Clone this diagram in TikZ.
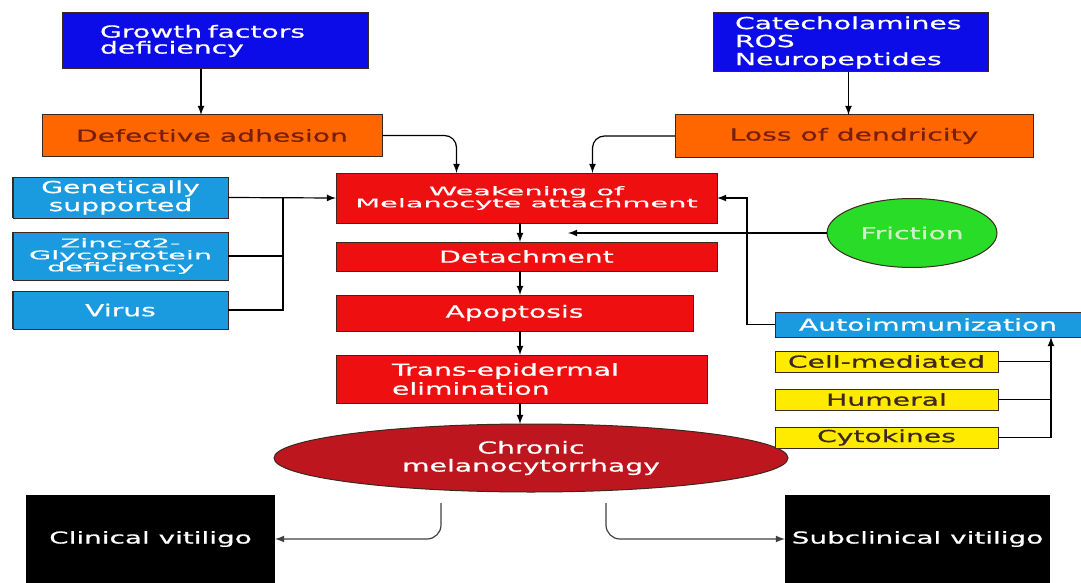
\documentclass[tikz,border=0pt]{standalone}
\usepackage{fontspec}
\newfontfamily\vfont[FakeStretch=1.7,FakeBold=0.7]{DejaVu Sans}
\newfontfamily\sfont[FakeStretch=2.4,FakeBold=0.7]{DejaVu Sans}
\usetikzlibrary{shapes.geometric,arrows}

\definecolor{dblue}{RGB}{12,12,232}
\definecolor{lblue}{RGB}{26,155,224}
\definecolor{orng}{RGB}{255,102,0}
\definecolor{rbox}{RGB}{238,16,16}
\definecolor{dred}{RGB}{190,22,30}
\definecolor{grn}{RGB}{40,220,40}
\definecolor{ylw}{RGB}{255,235,0}
\definecolor{edge}{RGB}{60,40,30}
\definecolor{otext}{RGB}{120,30,10}

\tikzset{
  box/.style={draw=edge, line width=0.5pt, inner sep=0pt, outer sep=0pt,
    align=center, font=\vfont\fontsize{8.3}{9}\selectfont},
  squish/.style={font={\lineskiplimit=-20pt\relax\sfont\fontsize{6}{6}\selectfont}},
  arr/.style={-latex, line width=0.6pt},
}

\begin{document}
\begin{tikzpicture}[x=0.5pt,y=-0.5pt]
\useasboundingbox (0,0) rectangle (1081,583);

% top sources
\node[box, fill=dblue, text=white, minimum height=28pt, inner xsep=19pt, text width=115pt, align=left,
  font=\vfont\fontsize{8.3}{8}\selectfont] (growth) at (215,41) {Growth factors\\deficiency};
\node[box, fill=dblue, text=white, minimum height=29.5pt, inner xsep=11pt, text width=115.5pt, align=left] (catechol) at (850.5,42.5) {Catecholamines\\ROS\\Neuropeptides};
\node[box, fill=orng, text=otext, minimum width=170pt, minimum height=20.5pt] (defect) at (212,135.5) {Defective adhesion};
\node[box, fill=orng, text=otext, minimum width=179pt, minimum height=21pt] (loss) at (854,136) {Loss of dendricity};

% central chain
\node[box, squish, fill=rbox, text=white, minimum width=190.5pt, minimum height=25pt] (weak) at (526.5,198) {Weakening of\\Melanocyte attachment};
\node[box, fill=rbox, text=white, minimum width=190.5pt, minimum height=14.5pt] (detach) at (526.5,256.5) {Detachment};
\node[box, fill=rbox, text=white, minimum width=178.5pt, minimum height=18pt] (apopt) at (514.5,313) {Apoptosis};
\node[box, fill=rbox, text=white, minimum height=24pt, inner xsep=28pt, text width=129.5pt, align=left,
  font=\vfont\fontsize{8.3}{9.5}\selectfont] (trans) at (521.5,379) {Trans-epidermal\\elimination};
\node[box, ellipse, fill=dred, text=white, minimum width=257pt, minimum height=34pt] (chronic) at (531,458) {Chronic\\melanocytorrhagy};

% left causes
\node[box, fill=lblue, text=white, minimum width=107.5pt, minimum height=20.5pt] (genet) at (120.5,197.5) {Genetically\\supported};
\node[box, squish, fill=lblue, text=white, minimum width=107.5pt, minimum height=24pt] (zinc) at (120.5,256) {Zinc-α2-\\Glycoprotein\\deficiency};
\node[box, fill=lblue, text=white, minimum width=107.5pt, minimum height=19pt] (virus) at (120.5,310) {Virus};
\foreach \n in {genet,zinc,virus}
  \draw[line width=1.4pt, edge] (\n.north west) -- (\n.south west);

% right causes
\node[box, ellipse, fill=grn, text={rgb,255:red,210;green,240;blue,200}, minimum width=85pt, minimum height=34.5pt] (friction) at (912,233) {Friction};
\node[box, fill=lblue, text=white, minimum width=153pt, minimum height=12.5pt] (auto) at (928,324.5) {Autoimmunization};
\node[box, fill=ylw, text=edge, minimum width=111.5pt, minimum height=10.5pt] (cell) at (886.5,361.5) {Cell-mediated};
\node[box, fill=ylw, text=edge, minimum width=111.5pt, minimum height=10.5pt] (humer) at (886.5,399.5) {Humeral};
\node[box, fill=ylw, text=edge, minimum width=111.5pt, minimum height=10.5pt] (cyto) at (886.5,437.5) {Cytokines};

% outcomes
\node[box, draw=none, fill=black, text=white, minimum width=124.5pt, minimum height=44pt,
  font=\vfont\fontsize{8.2}{10}\selectfont] (clin) at (150.5,539) {Clinical vitiligo};
\node[box, draw=none, fill=black, text=white, minimum width=132.5pt, minimum height=44pt,
  font=\vfont\fontsize{8.2}{10}\selectfont] (subcl) at (917.5,539) {Subclinical vitiligo};

% connectors
\coordinate (sp) at (520,0);
\coordinate (jn) at (283,0);
\coordinate (fr) at (568,0);
\coordinate (ja) at ([xshift=61.5pt]auto.south);

\draw[arr] ([xshift=-7pt]growth.south) -- ([xshift=-7pt]growth.south |- defect.north);
\draw[arr] ([xshift=-1pt]catechol.south) -- ([xshift=-1pt]catechol.south |- loss.north);
\draw[arr, rounded corners=6pt] (defect.east) -| ([xshift=-35pt]weak.north);
\draw[arr, rounded corners=6pt] (loss.west) -| ([xshift=33pt]weak.north);

\draw[line width=0.6pt] (virus.east) -| (genet.east -| jn);
\draw[line width=0.6pt] (zinc.east) -- (zinc.east -| jn);
\draw[arr] (genet.east) -- (weak.west);

\draw[arr] (weak.south -| sp) -- (detach.north -| sp);
\draw[arr] (detach.south -| sp) -- (apopt.north -| sp);
\draw[arr] (apopt.south -| sp) -- (trans.north -| sp);
\draw[arr] (trans.south -| sp) -- (chronic.north -| sp);

\draw[arr] (friction.west) -- (friction.west -| fr);
\draw[arr] (auto.west) -- ++(-28,0) |- (weak.east);
\draw[line width=0.6pt] (cell.east) -- (cell.east -| ja);
\draw[line width=0.6pt] (humer.east) -- (humer.east -| ja);
\draw[arr] (cyto.east) -| (ja);

\draw[arr, darkgray, rounded corners=7pt] ([xshift=-45pt,yshift=-5.5pt]chronic.south) |- (clin.east);
\draw[arr, darkgray, rounded corners=7pt] ([xshift=37.5pt,yshift=-5.5pt]chronic.south) |- (subcl.west);
\end{tikzpicture}
\end{document}
